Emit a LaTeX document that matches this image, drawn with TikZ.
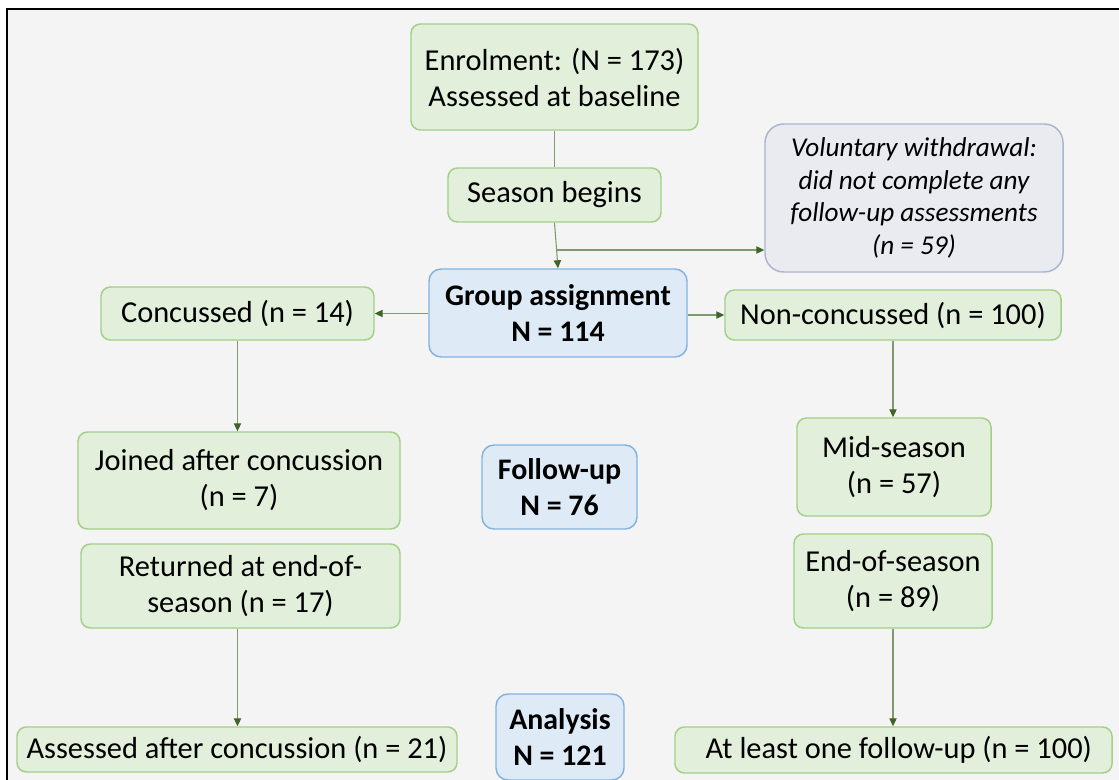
\documentclass[tikz,border=0pt]{standalone}
\usepackage{fontspec}
\setmainfont{Carlito}
\usetikzlibrary{arrows.meta}
\definecolor{bggray}{HTML}{F4F4F4}
\definecolor{gfill}{HTML}{E2EFDA}
\definecolor{gdraw}{HTML}{A3CF86}
\definecolor{bfill}{HTML}{DEEBF7}
\definecolor{bdraw}{HTML}{82B2E0}
\definecolor{vfill}{HTML}{E9EBF1}
\definecolor{vdraw}{HTML}{ABB5CB}
\definecolor{lcol}{HTML}{809A70}
\definecolor{acol}{HTML}{3F6428}
\tikzset{
  sz/.style 2 args={minimum width=#1*0.75pt, minimum height=#2*0.75pt},
  gbox/.style={draw=gdraw, fill=gfill, line width=1.1pt, rounded corners=7pt, inner sep=0pt, align=center, font=\fontsize{22.8}{27}\selectfont},
  bbox/.style={draw=bdraw, fill=bfill, line width=1.1pt, rounded corners=9pt, inner sep=0pt, align=center, font=\fontsize{22.4}{27}\selectfont\bfseries},
  vbox/.style={draw=vdraw, fill=vfill, line width=1.1pt, rounded corners=14pt, inner sep=0pt, align=center, font=\fontsize{20.4}{24.3}\selectfont\itshape},
  conn/.style={draw=lcol, line width=0.8pt},
  arr/.style={conn, -{Triangle[length=6pt,width=5.5pt,fill=acol,color=acol]}},
}
\begin{document}
\begin{tikzpicture}[x=0.75pt,y=-0.75pt]
\useasboundingbox (0,0) rectangle (1119,780);
\begin{scope}
\clip (0,0) rectangle (1119,780);
\fill[white] (0,0) rectangle (1119,780);
\draw[fill=bggray, draw=black, line width=1.8pt] (7,9) rectangle (1135,795);
\end{scope}

\node[gbox, sz={287}{106}] (enrol) at (554.5,77) {Enrolment: (N = 173)\\Assessed at baseline};
\node[gbox, sz={213}{54}] (season) at (554.5,195) {Season begins};
\node[vbox, sz={298}{148}] (vol) at (914,198) {Voluntary withdrawal:\\did not complete any\\follow-up assessments\\(n = 59)};
\node[bbox, sz={258}{88}] (group) at (558,313) {Group assignment\\N = 114};
\node[gbox, sz={273}{53}] (conc) at (237.5,313.5) {Concussed (n = 14)};
\node[gbox, sz={336}{50}] (nonc) at (893,315) {Non-concussed (n = 100)};
\node[gbox, sz={322}{97}] (joined) at (239,480.5) {Joined after concussion\\(n = 7)};
\node[gbox, sz={319}{84}] (returned) at (240.5,586) {Returned at end-of-\\season (n = 17)};
\node[gbox, sz={440}{45}] (assessed) at (237,749.5) {Assessed after concussion (n = 21)};
\node[bbox, sz={155}{84}] (follow) at (559.5,487) {Follow-up\\N = 76};
\node[bbox, sz={128}{86}] (analysis) at (560,737) {Analysis\\N = 121};
\node[gbox, sz={194}{98}] (mid) at (894,467) {Mid-season\\(n = 57)};
\node[gbox, sz={198}{94}] (endS) at (893,581) {End-of-season\\(n = 89)};
\node[gbox, sz={437}{46}] (atleast) at (893.5,750) {\hspace*{8pt}At least one follow-up (n = 100)};

\draw[conn] (enrol.south) -- (season.north);
\draw[arr] (season.south) -- (group.north);
\coordinate (br) at (556,250);
\draw[arr] (br) -- (vol.west |- br);
\draw[arr] (group.west |- conc.east) -- (conc.east);
\draw[arr] (group.east |- nonc.west) -- (nonc.west);
\draw[arr] (conc.south) -- (joined.north -| conc.south);
\draw[arr] (returned.south -| conc.south) -- (assessed.north -| conc.south);
\draw[arr] (nonc.south) -- (mid.north -| nonc.south);
\draw[arr] (endS.south -| nonc.south) -- (atleast.north -| nonc.south);
\end{tikzpicture}
\end{document}
